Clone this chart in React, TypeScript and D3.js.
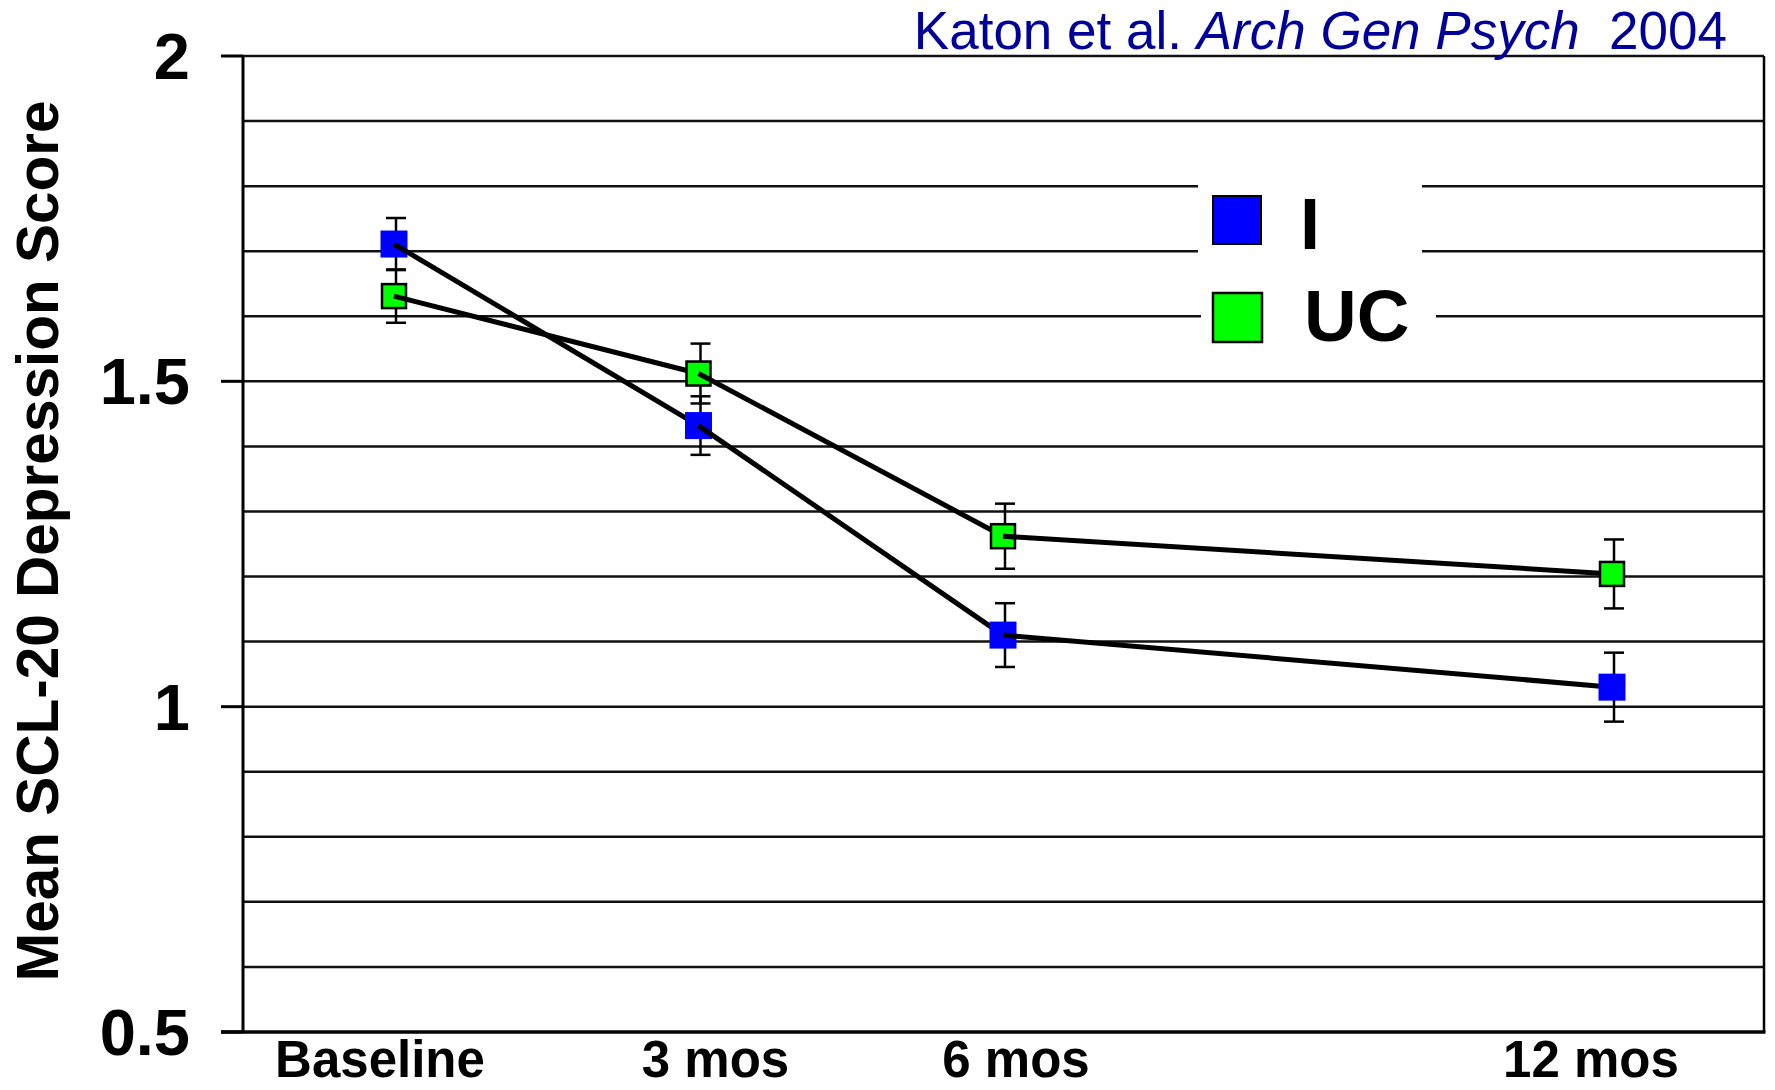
import React from "react";
import * as d3 from "d3";

// ---- data ----
const months = [0, 3, 6, 12];
const timeLabels = ["Baseline", "3 mos", "6 mos", "12 mos"];
const seriesNames = ["I", "UC"];
const interventionMeans = [1.711, 1.432, 1.110, 1.030];
const interventionErr = [0.040, 0.045, 0.049, 0.053];
const usualCareMeans = [1.631, 1.512, 1.262, 1.204];
const usualCareErr = [0.041, 0.046, 0.050, 0.053];
const yMajorTicks = [0.5, 1, 1.5, 2];
const yTickLabels = ["0.5", "1", "1.5", "2"];
const yGridValues = d3.range(6, 21).map((d) => d / 10);

// ---- layout ----
const W = 1775;
const H = 1090;
const FONT = "'Liberation Sans', Arial, Helvetica, sans-serif";
const xLabelNudge = [-14, 17, 13, -21];

export default function App() {
  const x = d3.scaleLinear().domain([0, 12]).range([394, 1612]);
  const y = d3.scaleLinear().domain([0.5, 2]).range([1032, 56]);
  const plotLeft = 243;
  const plotRight = 1764;

  const series = [
    { name: seriesNames[0], means: interventionMeans, err: interventionErr, fill: "#0000FF", size: 27, stroke: "none" },
    { name: seriesNames[1], means: usualCareMeans, err: usualCareErr, fill: "#00FF00", size: 24, stroke: "#000" },
  ];

  const renderSeries = (s: any, si: number) => {
    const els: any[] = [];
    months.forEach((m, i) => {
      const cx = x(m);
      const cy = y(s.means[i]);
      const yt = y(s.means[i] + s.err[i]);
      const yb = y(s.means[i] - s.err[i]);
      els.push(
        <g key={`eb${si}-${i}`} stroke="#000" strokeWidth={2.5}>
          <line x1={cx + 2} x2={cx + 2} y1={yt} y2={yb} />
          <line x1={cx - 8} x2={cx + 12} y1={yt} y2={yt} />
          <line x1={cx - 8} x2={cx + 12} y1={yb} y2={yb} />
        </g>
      );
      els.push(
        <rect
          key={`m${si}-${i}`}
          x={cx - s.size / 2}
          y={cy - s.size / 2}
          width={s.size}
          height={s.size}
          fill={s.fill}
          stroke={s.stroke}
          strokeWidth={s.stroke === "none" ? 0 : 2.5}
        />
      );
      if (i < months.length - 1) {
        els.push(
          <line
            key={`l${si}-${i}`}
            x1={cx}
            y1={cy}
            x2={x(months[i + 1])}
            y2={y(s.means[i + 1])}
            stroke="#000"
            strokeWidth={5}
          />
        );
      }
    });
    return els;
  };

  return (
    <svg
      width={W}
      height={H}
      viewBox={`0 0 ${W} ${H}`}
      style={{ position: "absolute", left: 0, top: 0, background: "#fff" }}
      fontFamily={FONT}
    >
      <rect x={0} y={0} width={W} height={H} fill="#fff" />

      {/* gridlines */}
      {yGridValues.map((v) => (
        <line key={`g${v}`} x1={plotLeft} x2={plotRight} y1={y(v)} y2={y(v)} stroke="#111" strokeWidth={2.5} />
      ))}
      {/* major ticks */}
      {yMajorTicks.map((v) => (
        <line key={`t${v}`} x1={221} x2={plotLeft} y1={y(v)} y2={y(v)} stroke="#000" strokeWidth={3} />
      ))}
      {/* axes & border */}
      <line x1={221} x2={plotRight + 1.5} y1={y(0.5)} y2={y(0.5)} stroke="#000" strokeWidth={3.5} />
      <line x1={plotLeft} x2={plotLeft} y1={y(2)} y2={y(0.5)} stroke="#000" strokeWidth={3} />
      <line x1={plotRight} x2={plotRight} y1={y(2)} y2={y(0.5)} stroke="#000" strokeWidth={2.5} />

      {/* legend background */}
      <rect x={1198} y={160} width={224} height={110} fill="#fff" />
      <rect x={1201} y={270} width={235} height={90} fill="#fff" />

      {/* series */}
      {series.map((s, si) => (
        <g key={`s${si}`}>{renderSeries(s, si)}</g>
      ))}

      {/* legend */}
      <rect x={1213} y={196} width={48} height={48} fill="#0000FF" stroke="#000" strokeWidth={2} />
      <text x={1300} y={249} fontSize={72} fontWeight="bold" fill="#000">{seriesNames[0]}</text>
      <rect x={1213} y={293} width={49} height={49} fill="#00FF00" stroke="#000" strokeWidth={2.5} />
      <text x={1304} y={341} fontSize={73} fontWeight="bold" fill="#000">{seriesNames[1]}</text>

      {/* y tick labels */}
      {yMajorTicks.map((v, i) => (
        <text key={`yl${v}`} x={190} y={y(v) + 23} fontSize={65} fontWeight="bold" textAnchor="end" fill="#000">
          {yTickLabels[i]}
        </text>
      ))}

      {/* x labels */}
      {months.map((m, i) => (
        <text
          key={`xl${m}`}
          x={x(m) + xLabelNudge[i]}
          y={1077}
          fontSize={51}
          fontWeight="bold"
          textAnchor="middle"
          fill="#000"
        >
          {timeLabels[i]}
        </text>
      ))}

      {/* y axis title */}
      <text
        transform="translate(58,541) rotate(-90)"
        fontSize={58.5}
        fontWeight="bold"
        textAnchor="middle"
        fill="#000"
      >
        Mean SCL-20 Depression Score
      </text>

      {/* citation */}
      <text x={1727} y={49} fontSize={53} textAnchor="end" fill="#000099" style={{ whiteSpace: "pre" }}>
        <tspan>Katon et al. </tspan>
        <tspan fontStyle="italic">Arch Gen Psych</tspan>
        <tspan>{"  2004"}</tspan>
      </text>
    </svg>
  );
}
